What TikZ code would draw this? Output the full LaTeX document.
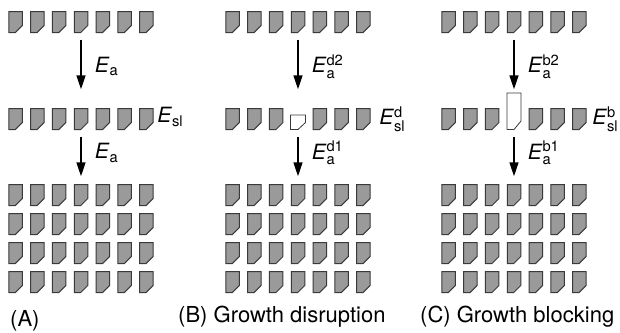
\documentclass[tikz,border=0pt]{standalone}
\usepackage{amsmath}
\usepackage{fontspec}
\setmainfont{TeX Gyre Heros}
\usepackage{tikz}
\usetikzlibrary{arrows.meta, positioning, calc}
\definecolor{gbFill}{HTML}{9A9A9A}
\definecolor{gbLine}{HTML}{3A3A3A}
\newcommand{\Elbl}[2]{\textit{E}$_{\text{#1}}^{\text{#2}}$}

\tikzset{
  blk/.pic={\draw[gbLine, line width=1pt, fill=gbFill]
    (-6.75,-10.5) -- (6.75,-10.5) -- (6.75,3.5) -- (-0.25,10.5) -- (-6.75,10.5) -- cycle;},
  smallblk/.pic={\draw[gbLine, line width=0.8pt, fill=white]
    (-7.5,10.5) -- (-7.5,-4) -- (7.5,-4) -- (7.5,3.5) -- (0,10.5) -- cycle;},
  tallblk/.pic={\draw[gbLine, line width=0.8pt, fill=white]
    (-7,10.5) -- (-7,-26) -- (7,-26) -- (7,2) -- (0,10.5) -- cycle;},
  rowbox/.style={minimum width=144pt, minimum height=21pt, inner sep=0pt},
  arr/.style={-{Triangle[length=14pt,width=9pt]}, line width=1.6pt},
  elbl/.style={anchor=west, inner sep=0pt},
  captxt/.style={anchor=base west, inner sep=0pt, font=\fontsize{22}{26}\selectfont}
}

\begin{document}
\begin{tikzpicture}[x=1pt, y=-1pt, font=\fontsize{21}{25}\selectfont]
  \useasboundingbox (0,0) rectangle (620,332);

  \foreach \p/\cx in {A/81, B/298, C/514} {
    \node[rowbox] (\p1) at (\cx,22) {};
    \node[rowbox] (\p2) at (\cx,119) {};
    \node[rowbox] (\p3) at (\cx,195) {};
    \foreach \i in {1,...,7}
      \pic at ({\cx+(\i-4)*21.8}, 22) {blk};
    \foreach \i in {1,2,3,5,6,7}
      \pic at ({\cx+(\i-4)*21.8}, 119) {blk};
    \foreach \r in {0,...,3}
      \foreach \i in {1,...,7}
        \pic at ({\cx+(\i-4)*21.8}, {195+\r*29}) {blk};
  }
  \pic at (81,119) {blk};
  \pic at (298,119) {smallblk};
  \pic at (514,119) {tallblk};

  \draw[arr, shorten <=7pt, shorten >=19pt] (A1) -- (A2)
    node[midway, elbl, xshift=13pt, yshift=4pt] (ea1) {\textit{E}$_{\text{a}}$};
  \draw[arr, shorten <=7pt, shorten >=8pt] (A2) -- (A3)
    node[midway, elbl, xshift=13pt, yshift=4pt] (ea2) {\textit{E}$_{\text{a}}$};
  \node[elbl, right=4pt of A2, yshift=2pt] (esA) {\textit{E}$_{\text{sl}}$};

  \draw[arr, shorten <=7pt, shorten >=19pt] (B1) -- (B2)
    node[midway, elbl, xshift=13pt, yshift=4pt] (eb1) {\Elbl{a}{d2}};
  \draw[arr, shorten <=7pt, shorten >=8pt] (B2) -- (B3)
    node[midway, elbl, xshift=13pt, yshift=4pt] (eb2) {\Elbl{a}{d1}};
  \node[elbl, right=9pt of B2] (esB) {\Elbl{sl}{d}};

  \draw[arr, shorten <=7pt, shorten >=19pt] (C1) -- (C2)
    node[midway, elbl, xshift=13pt, yshift=4pt] (ec1) {\Elbl{a}{b2}};
  \draw[arr, shorten <=7pt, shorten >=8pt] (C2) -- (C3)
    node[midway, elbl, xshift=13pt, yshift=4pt] (ec2) {\Elbl{a}{b1}};
  \node[elbl, right=6pt of C2] (esC) {\Elbl{sl}{b}};

  \node[captxt] (capA) at (10,326) {(A)};
  \node[captxt] (capB) at (178,322) {(B) Growth disruption};
  \node[captxt] (capC) at (420,322) {(C) Growth blocking};
\end{tikzpicture}
\end{document}
